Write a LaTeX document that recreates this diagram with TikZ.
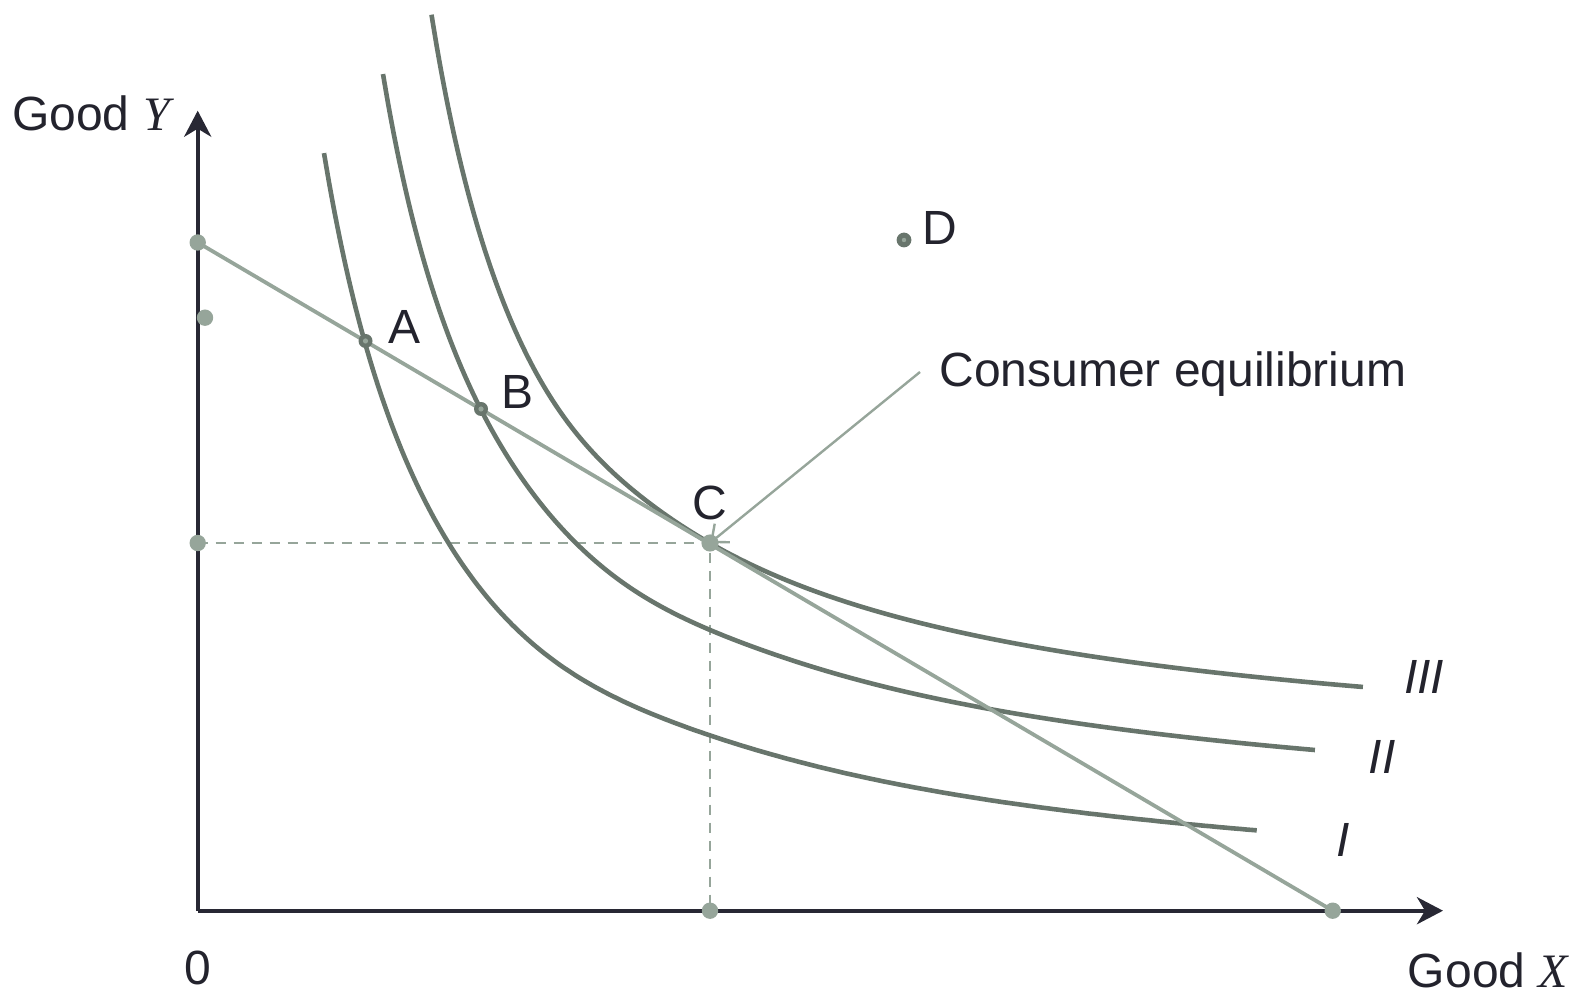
\documentclass[tikz,border=0pt]{standalone}
\usepackage{fontspec}
\setmainfont{Liberation Sans}
\newfontfamily\serifit{Liberation Serif}
\usetikzlibrary{arrows.meta}
\definecolor{axiscol}{RGB}{40,40,52}
\definecolor{curvecol}{RGB}{104,117,108}
\definecolor{budgetcol}{RGB}{150,165,154}
\definecolor{textcol}{RGB}{35,35,45}
\tikzset{
  axisline/.style={draw=axiscol, line width=2.1pt, -{Stealth[length=13pt,width=13.5pt,inset=4pt]}},
  indiff/.style={draw=curvecol, line width=2.3pt},
  budget/.style={draw=budgetcol, line width=1.9pt},
  dashline/.style={draw=budgetcol, line width=1.4pt, dash pattern=on 5pt off 4pt},
  leader/.style={draw=budgetcol, line width=1.2pt, -{Straight Barb[length=7pt,width=12pt]}},
  bigdot/.style={fill=budgetcol},
  ringdot/.style={fill=curvecol},
  lbl/.style={text=textcol, inner sep=0pt}
}
\begin{document}
\begin{tikzpicture}[x=50pt,y=-50pt, font=\fontsize{24}{28}\selectfont]
\useasboundingbox (0,0) rectangle (15.89,9.93);
% key points
\coordinate (O) at (1.977,9.107);
\coordinate (ytip) at (1.977,1.107);
\coordinate (xtip) at (14.43,9.107);
\coordinate (btop) at (1.977,2.425);
\coordinate (bend) at (13.327,9.107);
\coordinate (extra) at (2.05,3.177);
\coordinate (ydot) at (1.977,5.43);
\coordinate (C) at (7.10,5.43);
\coordinate (xdot) at (7.10,9.107);
\coordinate (A) at (3.655,3.41);
\coordinate (B) at (4.81,4.09);
\coordinate (D) at (9.04,2.40);
% dashed guides
\draw[dashline] (ydot) -- (C) -- (xdot);
% indifference curves
\draw[indiff] plot[domain=3.24:12.57, samples=180, smooth]
  (\x,{9.15-10.41*exp(-1.06*ln(\x-1.90))+0.11*exp(-((\x-5.20)/1.40)^2)});
\draw[indiff] plot[domain=3.83:13.15, samples=180, smooth]
  (\x,{8.425-9.799/(\x-2.555)+0.07*exp(-((\x-6.10)/1.10)^2)});
\draw[indiff] plot[domain=4.315:13.63, samples=180, smooth]
  (\x,{7.753-9.3061/(\x-3.094)+0.08*exp(-((\x-5.40)/0.85)^2)});
% budget line
\draw[budget] (btop) -- (bend);
% axes
\draw[axisline] (O) -- (ytip);
\draw[axisline] (O) -- (xtip);
% labels
\node[lbl] (ylab) at (0.91,1.13) {Good {\serifit\itshape Y}};
\node[lbl] (zero) at (1.98,9.68) {0};
\node[lbl] (xlab) at (14.88,9.70) {Good {\serifit\itshape X}};
\node[lbl] (lA) at (4.05,3.27) {A};
\node[lbl] (lB) at (5.18,3.92) {B};
\node[lbl] (lC) at (7.10,5.03) {C};
\node[lbl] (lD) at (9.40,2.28) {D};
\node[lbl, anchor=west] (ce) at (9.39,3.74) {Consumer equilibrium};
\node[lbl] (lIII) at (14.24,6.77) {\itshape III};
\node[lbl] (lII) at (13.82,7.57) {\itshape II};
\node[lbl] (lI) at (13.43,8.40) {\itshape I};
% leader
\draw[leader] ([xshift=-9.5pt,yshift=1pt]ce.west) -- (C);
% dots
\fill[bigdot] (btop) circle (4.1pt);
\fill[bigdot] (extra) circle (4.1pt);
\fill[bigdot] (ydot) circle (4.1pt);
\fill[bigdot] (C) circle (4.3pt);
\fill[bigdot] (xdot) circle (4.1pt);
\fill[bigdot] (bend) circle (4.1pt);
\fill[ringdot] (A) circle (3.5pt);
\fill[bigdot] (A) circle (1.3pt);
\fill[ringdot] (B) circle (3.5pt);
\fill[bigdot] (B) circle (1.3pt);
\fill[ringdot] (D) circle (3.7pt);
\fill[bigdot] (D) circle (1.1pt);
\end{tikzpicture}
\end{document}
